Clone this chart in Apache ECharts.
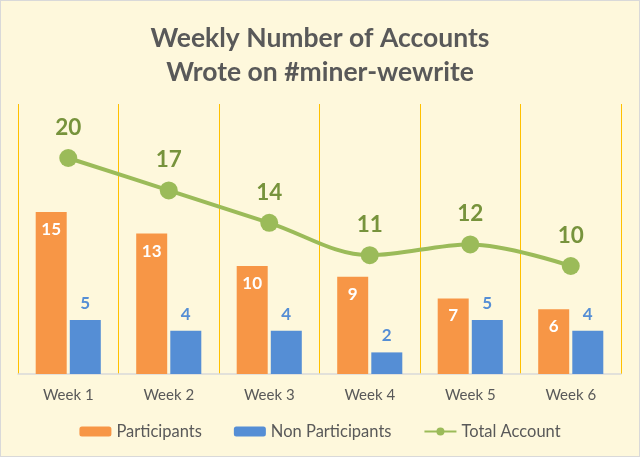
<!DOCTYPE html>
<html lang="en">
<head>
    <meta charset="UTF-8">
    <title>Weekly Number of Accounts</title>
    <script src="https://cdn.jsdelivr.net/npm/echarts@6/dist/echarts.min.js"></script>
    <style>
        html, body { margin: 0; padding: 0; background: #fff; }
        #main { width: 638px; height: 455px; border: 1px solid #d9d9d9; }
    </style>
</head>
<body>
<div id="main"></div>
<script>
    var weeks = ['Week 1', 'Week 2', 'Week 3', 'Week 4', 'Week 5', 'Week 6'];
    var participants = [15, 13, 10, 9, 7, 6];
    var nonParticipants = [5, 4, 4, 2, 5, 4];
    var totalAccount = [20, 17, 14, 11, 12, 10];

    var myChart = echarts.init(document.getElementById('main'));
    var font = 'Lato, "Open Sans", sans-serif';
    var option = {
        backgroundColor: '#fef8dc',
        title: {
            text: 'Weekly Number of Accounts\nWrote on #miner-wewrite',
            left: 'center',
            top: 15,
            textStyle: {
                fontFamily: font,
                fontSize: 26.5,
                fontWeight: 'bold',
                color: '#595959',
                lineHeight: 34
            }
        },
        legend: {
            bottom: 11,
            itemGap: 32,
            itemWidth: 32,
            itemHeight: 10,
            textStyle: { fontFamily: font, fontSize: 16.5, color: '#595959' },
            data: ['Participants', 'Non Participants', 'Total Account']
        },
        grid: { left: 17, right: 18, top: 103, bottom: 82 },
        xAxis: {
            type: 'category',
            data: weeks,
            axisLine: { lineStyle: { color: '#d9d9d9', width: 1.5 } },
            axisTick: { show: false },
            axisLabel: { fontFamily: font, fontSize: 15, color: '#595959', margin: 14 },
            splitLine: { show: true, lineStyle: { color: '#ffc000', width: 1 } }
        },
        yAxis: {
            type: 'value',
            min: 0,
            max: 25,
            show: false,
            splitLine: { show: false }
        },
        series: [
            {
                name: 'Participants',
                type: 'bar',
                barWidth: 31,
                barGap: '10%',
                itemStyle: { color: '#f79646' },
                label: {
                    show: true,
                    position: 'insideTop',
                    distance: 9,
                    fontFamily: font,
                    fontSize: 17,
                    fontWeight: 'bold',
                    color: '#ffffff'
                },
                data: participants
            },
            {
                name: 'Non Participants',
                type: 'bar',
                barWidth: 31,
                itemStyle: { color: '#558ed5' },
                label: {
                    show: true,
                    position: 'top',
                    distance: 8,
                    fontFamily: font,
                    fontSize: 17,
                    fontWeight: 'bold',
                    color: '#558ed5'
                },
                data: nonParticipants
            },
            {
                name: 'Total Account',
                type: 'line',
                smooth: 0.35,
                symbol: 'circle',
                symbolSize: 18,
                lineStyle: { color: '#9bbb59', width: 4 },
                itemStyle: { color: '#9bbb59' },
                label: {
                    show: true,
                    position: 'top',
                    distance: 10,
                    fontFamily: font,
                    fontSize: 22.5,
                    fontWeight: 'bold',
                    color: '#77933c'
                },
                data: totalAccount
            }
        ]
    };
    myChart.setOption(option);
</script>
</body>
</html>
